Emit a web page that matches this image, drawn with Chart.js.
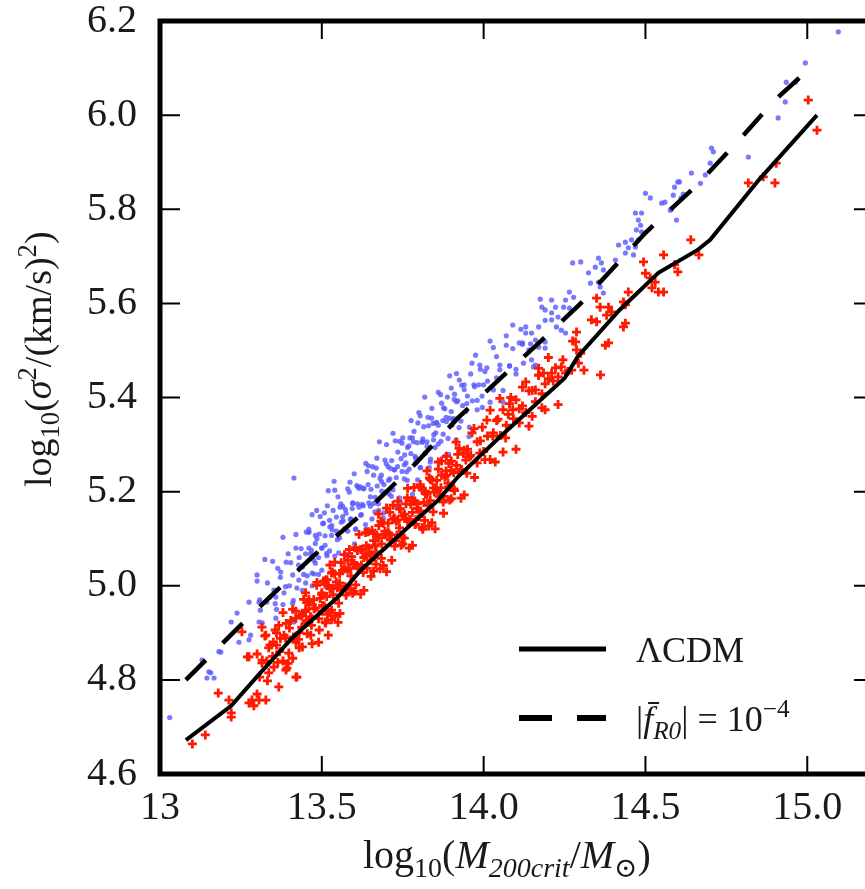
<!DOCTYPE html>
<html>
<head>
<meta charset="utf-8">
<script src="https://cdn.jsdelivr.net/npm/chart.js@4.4.1/dist/chart.umd.min.js"></script>
<style>
  html, body { margin: 0; padding: 0; background: #fff; overflow: hidden; }
  #wrap { width: 900px; height: 889px; }
</style>
</head>
<body>
<div id="wrap"><canvas id="chart" width="900" height="889"></canvas></div>
<script>
// --- DATA ---
const xTicks = [13, 13.5, 14, 14.5, 15];
const xTickLabels = ['13', '13.5', '14.0', '14.5', '15.0'];
const yTicks = [4.6, 4.8, 5.0, 5.2, 5.4, 5.6, 5.8, 6.0, 6.2];
const yTickLabels = ['4.6', '4.8', '5.0', '5.2', '5.4', '5.6', '5.8', '6.0', '6.2'];

const seriesNames = ['ΛCDM', '|f̄R0| = 10−4'];

// mean relations
const lcdmLineX = [13.08, 13.22, 13.31, 13.41, 13.47, 13.55, 13.62, 13.78, 13.86, 13.92, 14.05, 14.25, 14.29, 14.42, 14.54, 14.66, 14.70, 14.85, 15.03];
const lcdmLineY = [4.672, 4.745, 4.815, 4.89, 4.927, 4.976, 5.033, 5.133, 5.182, 5.231, 5.316, 5.441, 5.486, 5.586, 5.665, 5.713, 5.735, 5.862, 6.0];
const fr4LineX = [13.08, 13.265, 13.47, 13.667, 13.79, 13.92, 14.046, 14.18, 14.30, 14.5, 14.657, 14.78, 14.90, 15.012];
const fr4LineY = [4.80, 4.927, 5.061, 5.178, 5.26, 5.356, 5.437, 5.522, 5.60, 5.75, 5.85, 5.94, 6.032, 6.102];

// individual haloes, ΛCDM (red)
const lcdmHalos = [
  [13.10,4.664],[13.14,4.683],[13.18,4.772],[13.213,4.757],[13.22,4.73],[13.22,4.721],[13.275,4.751],[13.284,4.757],
  [13.29,4.745],[13.30,4.77],[13.306,4.757],[13.327,4.757],[13.42,4.806],[13.423,4.806],[13.253,4.902],[13.27,4.849],
  [13.275,4.849],[13.315,4.912],[13.327,4.895],[13.336,4.868],[13.36,4.874],[13.367,4.916],[13.383,4.895],[13.398,4.857],
  [13.43,4.868],[13.41,4.846],[13.352,4.827],[13.389,4.821],[13.438,4.912],[13.42,4.931],[13.45,4.948],[13.466,4.895],
  [13.49,4.88],[13.52,4.895],[13.512,4.921],[13.53,4.948],[13.552,4.963],[13.50,4.985],[13.512,5.012],[13.53,5.027],
  [13.45,4.985],[13.315,4.836],[13.336,4.815],[13.367,4.785],[13.392,4.825],
  [13.36,4.90],[13.40,4.91],[13.44,4.94],[13.37,4.86],[13.42,4.88],[13.45,4.92],[13.38,4.84],[13.41,4.95],
  [13.43,4.90],[13.46,4.96],[13.39,4.92],[13.44,4.87],[13.33,4.84],[13.35,4.88],[13.47,4.93],
  [13.45,4.945],[13.455,4.898],[13.46,4.971],[13.465,4.934],[13.47,4.877],[13.475,4.97],[13.48,4.953],[13.485,5.007],
  [13.49,4.93],[13.495,4.973],[13.50,4.946],[13.505,5.01],[13.51,4.923],[13.515,4.977],[13.52,5.00],[13.525,5.044],
  [13.53,4.928],[13.535,4.981],[13.54,5.025],[13.545,5.008],[13.55,4.922],[13.555,5.006],[13.56,5.049],[13.565,4.993],
  [13.57,5.036],[13.575,4.98],[13.58,5.034],[13.585,5.077],[13.59,5.021],[13.595,4.984],[13.60,5.048],[13.605,5.002],
  [13.61,5.075],[13.615,5.039],[13.62,4.982],[13.625,5.076],[13.63,5.06],[13.635,5.113],[13.64,5.037],[13.645,5.08],
  [13.65,5.054],[13.655,5.118],[13.66,5.031],[13.665,5.085],[13.67,5.108],[13.675,5.152],[13.68,5.036],[13.685,5.089],
  [13.69,5.133],[13.695,5.116],[13.70,5.03],[13.705,5.113],[13.71,5.156],[13.715,5.099],[13.72,5.141],[13.725,5.084],
  [13.73,5.137],[13.735,5.18],[13.74,5.123],[13.745,5.086],[13.75,5.149],[13.755,5.101],[13.76,5.174],[13.765,5.137],
  [13.77,5.08],[13.775,5.173],[13.78,5.156],[13.785,5.209],[13.79,5.131],[13.795,5.174],[13.80,5.147],[13.805,5.21],
  [13.81,5.124],[13.815,5.177],[13.82,5.201],[13.825,5.244],[13.83,5.127],[13.835,5.181],[13.84,5.224],[13.845,5.208],
  [13.85,5.121],[13.855,5.204],[13.86,5.248],[13.865,5.191],[13.87,5.235],[13.875,5.178],[13.88,5.231],[13.885,5.275],
  [13.89,5.218],[13.895,5.182],[13.90,5.245],[13.91,5.202],[13.92,5.279],[13.93,5.246],[13.94,5.193],[13.95,5.29],
  [13.96,5.277],[13.97,5.334],[13.98,5.261],[13.99,5.308],[14.00,5.285],[14.01,5.352],[14.02,5.268],[14.03,5.325],
  [14.04,5.351],[14.05,5.398],[14.06,5.284],[14.07,5.341],[14.08,5.387],[14.09,5.374],[14.10,5.29],[14.11,5.376],
  [14.12,5.422],[14.13,5.368],[14.14,5.414],[14.15,5.36],[14.16,5.416],[14.17,5.462],[14.18,5.408],[14.19,5.374],[14.20,5.44],
  [13.5025,4.958],[13.51,5.003],[13.5175,4.939],[13.525,4.994],[13.5325,5.029],[13.54,4.935],[13.5475,5.00],[13.555,5.026],
  [13.5625,4.991],[13.57,5.066],[13.5775,4.992],[13.585,5.037],[13.5925,5.062],[13.60,4.988],[13.6075,5.043],[13.615,5.109],
  [13.6225,5.044],[13.63,4.99],[13.6375,5.085],[13.645,5.07],[13.6525,5.066],[13.66,5.111],[13.6675,5.046],[13.675,5.102],
  [13.6825,5.137],[13.69,5.043],[13.6975,5.108],[13.705,5.133],[13.7125,5.097],[13.72,5.171],[13.7275,5.096],[13.735,5.14],
  [13.7425,5.164],[13.75,5.089],[13.7575,5.143],[13.765,5.207],[13.7725,5.141],[13.78,5.086],[13.7875,5.18],[13.795,5.164],
  [13.8025,5.159],[13.81,5.204],[13.8175,5.139],[13.825,5.194],[13.8325,5.229],[13.84,5.134],[13.8475,5.199],[13.855,5.224],
  [13.8625,5.19],[13.87,5.265],[13.8775,5.19],[13.885,5.235],[13.8925,5.26],[13.90,5.185],[13.9075,5.24],[13.915,5.305],
  [13.9225,5.241],[13.93,5.186],[13.9375,5.281],[13.945,5.267],
  [13.300,4.855],[13.308,4.806],[13.316,4.842],[13.324,4.893],[13.332,4.798],[13.340,4.874],[13.348,4.85],[13.356,4.906],
  [13.364,4.837],[13.372,4.888],[13.380,4.943],[13.388,4.889],[13.396,4.835],[13.404,4.926],[13.412,4.891],[13.420,4.946],
  [13.428,4.886],[13.436,4.936],[13.444,4.971],[13.452,4.926],[13.460,4.966],[13.468,4.916],[13.476,4.951],[13.484,5.001],
  [13.492,4.906],[13.500,4.981],[13.508,4.957],[13.516,5.013],[13.524,4.943],[13.532,4.994],[13.540,5.05],[13.548,4.996],
  [13.556,4.941],[13.564,5.032],[13.572,4.998],[13.580,5.054],[13.588,4.994],[13.596,5.045],[13.604,5.081],[13.612,5.037],
  [13.620,5.077],[13.628,5.028],[13.636,5.064],[13.644,5.115],[13.652,5.02],[13.660,5.096],[13.668,5.072],[13.676,5.128],
  [13.684,5.058],[13.692,5.109],[13.700,5.165],[13.708,5.11],[13.716,5.054],[13.724,5.144],[13.732,5.108],[13.740,5.163],
  [13.748,5.103],[13.756,5.152],[13.764,5.187],[13.772,5.141],[13.780,5.181],[13.788,5.13],[13.796,5.165],[13.804,5.215],
  [13.812,5.12],[13.820,5.196],[13.828,5.171],[13.836,5.226],[13.844,5.157],[13.852,5.207],[13.860,5.263],[13.868,5.208],
  [13.876,5.154],[13.884,5.244],[13.892,5.21],[13.900,5.265],[13.908,5.206],[13.916,5.256],[13.924,5.292],[13.932,5.247],
  [13.940,5.288],[13.948,5.239],[13.956,5.274],[13.964,5.325],[13.972,5.23],[13.980,5.306],[13.988,5.282],[13.996,5.337],
  [14.004,5.268],[14.012,5.318],[14.020,5.373],[14.028,5.318],[14.036,5.263],[14.044,5.354],[14.052,5.319],[14.060,5.374],
  [14.068,5.314],[14.076,5.364],[14.084,5.40],[14.092,5.355],[14.100,5.395],[14.110,5.346],[14.120,5.382],[14.130,5.433],
  [14.140,5.339],[14.150,5.415],[14.160,5.391],[14.170,5.447],[14.180,5.378],[14.190,5.429],[14.200,5.485],[14.215,5.435],
  [14.230,5.385],[14.245,5.48],[14.260,5.455],[14.275,5.52],
  [14.64,5.735],[14.556,5.703],[14.60,5.667],[14.59,5.682],[14.494,5.688],[14.50,5.664],[14.515,5.654],[14.53,5.645],
  [14.52,5.633],[14.54,5.624],[14.556,5.624],[14.447,5.624],[14.432,5.603],[14.438,5.597],[14.349,5.611],[14.36,5.592],
  [14.386,5.592],[14.395,5.582],[14.333,5.565],[14.349,5.561],[14.38,5.575],[14.438,5.558],[14.432,5.55],[14.386,5.516],
  [14.376,5.511],[14.287,5.539],[14.284,5.518],[14.287,5.501],[14.30,5.494],[14.293,5.473],[14.31,5.458],[14.361,5.448],
  [14.24,5.465],[14.222,5.463],[14.21,5.452],[14.185,5.452],[14.17,5.448],[14.23,5.444],[14.253,5.452],[14.272,5.458],
  [15.003,6.032],[15.03,5.968],[14.904,5.898],[14.864,5.869],[14.818,5.856],[14.90,5.856],[14.665,5.703]
];

// individual haloes, f(R) 1e-4 (blue)
const fr4Halos = [
  [13.03,4.72],[13.145,4.804],[13.167,4.804],[13.157,4.815],[13.13,4.842],[13.151,4.817],[13.182,4.86],[13.188,4.859],
  [13.244,4.88],[13.275,4.885],[13.28,4.895],[13.22,4.923],[13.238,4.942],[13.275,4.965],[13.306,4.965],[13.33,4.965],
  [13.31,4.948],[13.306,4.923],[13.358,4.931],[13.30,5.023],[13.414,4.923],[13.358,4.976],[13.383,4.985],[13.41,4.963],
  [13.373,5.029],[13.41,5.023],[13.429,5.012],[13.45,5.006],[13.423,4.995],[13.47,5.027],[13.48,5.048],[13.50,5.033],
  [13.39,5.05],[13.352,4.991],[13.414,5.229],
  [13.44,5.04],[13.46,5.08],[13.43,5.06],[13.47,5.00],[13.49,5.06],[13.44,4.99],[13.40,5.00],[13.38,4.96],
  [13.36,4.95],[13.46,5.12],[13.42,5.08],[13.48,5.09],
  [13.45,5.068],[13.455,5.021],[13.46,5.114],[13.465,5.068],[13.47,5.151],[13.475,5.054],[13.48,5.107],[13.485,5.10],
  [13.49,5.024],[13.495,5.147],[13.50,5.08],[13.505,5.133],[13.51,5.106],[13.515,5.069],[13.52,5.202],[13.525,5.125],
  [13.53,5.107],[13.535,5.16],[13.54,5.063],[13.545,5.146],[13.55,5.189],[13.555,5.102],[13.56,5.135],[13.565,5.168],
  [13.57,5.121],[13.575,5.154],[13.58,5.066],[13.585,5.199],[13.59,5.142],[13.595,5.175],[13.60,5.238],[13.605,5.121],
  [13.61,5.174],[13.615,5.207],[13.62,5.15],[13.625,5.173],[13.63,5.207],[13.635,5.13],[13.64,5.243],[13.645,5.176],
  [13.65,5.189],[13.655,5.142],[13.66,5.235],[13.665,5.188],[13.67,5.271],[13.675,5.174],[13.68,5.228],[13.685,5.221],
  [13.69,5.144],[13.695,5.267],[13.70,5.20],[13.705,5.253],[13.71,5.227],[13.715,5.19],[13.72,5.324],[13.725,5.247],
  [13.73,5.23],[13.735,5.284],[13.74,5.187],[13.745,5.27],[13.75,5.314],[13.755,5.227],[13.76,5.261],[13.765,5.294],
  [13.77,5.248],[13.775,5.281],[13.78,5.194],[13.785,5.328],[13.79,5.271],[13.795,5.304],[13.80,5.368],[13.805,5.251],
  [13.81,5.305],[13.815,5.338],[13.82,5.282],[13.825,5.306],[13.83,5.34],[13.835,5.263],[13.84,5.377],[13.845,5.31],
  [13.85,5.294],[13.855,5.347],[13.86,5.341],[13.865,5.264],[13.87,5.388],[13.875,5.322],[13.88,5.376],[13.885,5.349],
  [13.89,5.313],[13.895,5.446],[13.90,5.37],[13.905,5.353],[13.91,5.407],[13.915,5.31],[13.92,5.393],[13.925,5.437],
  [13.93,5.35],[13.935,5.383],[13.94,5.417],[13.945,5.37],[13.95,5.403],[13.955,5.317],[13.96,5.45],[13.965,5.393],
  [13.97,5.427],[13.975,5.49],[13.98,5.374],[13.985,5.427],[13.99,5.46],[13.995,5.403],[14.00,5.427],[14.01,5.463],
  [14.02,5.39],[14.03,5.506],[14.04,5.442],[14.05,5.459],[14.06,5.415],[14.07,5.511],[14.08,5.467],[14.09,5.554],
  [14.10,5.46],[14.11,5.516],[14.12,5.513],
  [13.503,5.132],[13.51,5.086],[13.517,5.17],[13.524,5.074],[13.531,5.128],[13.538,5.222],[13.545,5.116],[13.552,5.07],
  [13.559,5.174],[13.566,5.138],[13.573,5.162],[13.58,5.116],[13.587,5.22],[13.594,5.164],[13.601,5.089],[13.608,5.213],
  [13.615,5.167],[13.622,5.151],[13.629,5.206],[13.636,5.26],[13.643,5.215],[13.65,5.169],[13.657,5.253],[13.664,5.157],
  [13.671,5.212],[13.678,5.306],[13.685,5.201],[13.692,5.155],[13.699,5.259],[13.706,5.224],[13.713,5.249],[13.72,5.204],
  [13.727,5.308],[13.734,5.253],[13.741,5.178],[13.748,5.303],[13.755,5.257],[13.762,5.242],[13.769,5.297],[13.776,5.351],
  [13.783,5.306],[13.79,5.261],[13.797,5.346],[13.804,5.251],[13.811,5.306],[13.818,5.401],[13.825,5.296],[13.832,5.251],
  [13.839,5.356],[13.846,5.321],[13.853,5.346],[13.86,5.301],[13.867,5.406],[13.874,5.351],[13.881,5.276],[13.888,5.401],
  [13.895,5.356],[13.902,5.341],[13.909,5.396],[13.916,5.451],
  [13.300,5.01],[13.308,4.97],[13.316,4.921],[13.324,5.056],[13.332,5.006],[13.340,4.976],[13.348,5.052],[13.356,4.962],
  [13.364,5.037],[13.372,5.018],[13.380,5.103],[13.388,4.998],[13.396,5.068],[13.404,5.049],[13.412,4.969],[13.420,5.109],
  [13.428,5.044],[13.436,5.079],[13.444,5.024],[13.452,5.114],[13.460,5.114],[13.468,5.075],[13.476,5.025],[13.484,5.16],
  [13.492,5.11],[13.500,5.08],[13.508,5.155],[13.516,5.064],[13.524,5.139],[13.532,5.119],[13.540,5.203],[13.548,5.098],
  [13.556,5.167],[13.564,5.147],[13.572,5.067],[13.580,5.206],[13.588,5.141],[13.596,5.176],[13.604,5.12],[13.612,5.21],
  [13.620,5.21],[13.628,5.17],[13.636,5.12],[13.644,5.255],[13.652,5.205],[13.660,5.175],[13.668,5.25],[13.676,5.16],
  [13.684,5.235],[13.692,5.215],[13.700,5.30],[13.708,5.195],[13.716,5.266],[13.724,5.246],[13.732,5.167],[13.740,5.307],
  [13.748,5.243],[13.756,5.278],[13.764,5.224],[13.772,5.314],[13.780,5.314],[13.788,5.275],[13.796,5.225],[13.804,5.361],
  [13.812,5.312],[13.820,5.282],[13.828,5.358],[13.836,5.269],[13.844,5.345],[13.852,5.325],[13.860,5.411],[13.868,5.307],
  [13.876,5.378],[13.884,5.358],[13.892,5.279],[13.900,5.42],[13.908,5.355],[13.916,5.391],[13.924,5.336],[13.932,5.426],
  [13.940,5.427],[13.948,5.387],[13.956,5.337],[13.964,5.473],[13.972,5.423],[13.980,5.394],[13.988,5.469],[13.996,5.379],
  [14.004,5.455],[14.012,5.435],[14.020,5.52],[14.030,5.416],[14.040,5.487],[14.050,5.469],[14.060,5.39],[14.070,5.531],
  [14.080,5.467],[14.090,5.504],[14.100,5.45],[14.115,5.545],[14.130,5.55],[14.145,5.514],[14.160,5.469],[14.175,5.609],[14.190,5.564],
  [14.642,5.877],[14.60,5.858],[14.59,5.847],[14.61,5.824],[14.586,5.83],[14.56,5.815],[14.55,5.813],[14.58,5.80],
  [14.577,5.798],[14.596,5.777],[14.50,5.834],[14.515,5.824],[14.469,5.792],[14.488,5.792],[14.478,5.777],[14.485,5.766],
  [14.472,5.756],[14.488,5.752],[14.478,5.735],[14.457,5.735],[14.438,5.73],[14.447,5.718],[14.469,5.72],[14.417,5.724],
  [14.438,5.707],[14.463,5.703],[14.407,5.692],[14.355,5.696],[14.364,5.686],[14.345,5.677],[14.37,5.671],[14.275,5.686],
  [14.30,5.688],[14.324,5.665],[14.33,5.643],[14.355,5.645],[14.36,5.635],[14.37,5.622],[14.265,5.624],[14.278,5.613],
  [14.253,5.607],[14.21,5.607],[14.222,5.592],[14.247,5.592],[14.265,5.59],[14.21,5.58],[14.19,5.586],[14.18,5.592],
  [14.23,5.571],[14.21,5.565],[14.225,5.55],[14.24,5.543],[14.253,5.537],[14.17,5.55],[14.148,5.537],[14.13,5.537],
  [14.16,5.522],[14.19,5.518],[14.12,5.516],[14.17,5.507],[14.14,5.501],[14.19,5.505],[14.148,5.48],[14.123,5.473],[14.154,5.465],
  [15.096,6.177],[14.994,6.111],[14.935,6.07],[14.963,6.07],[14.932,6.028],[14.91,5.994],[14.818,5.911],[14.704,5.93],
  [14.71,5.922],[14.70,5.898],[14.685,5.873],[14.605,5.858],[14.67,5.855],[14.617,5.832]
];

// --- CHART ---
const SERIF = '"Liberation Serif", "DejaVu Serif", serif';
const TXT = '#1a1a1a';

function toXY(pairs) { return pairs.map(p => ({ x: p[0], y: p[1] })); }
function zipXY(xs, ys) { return xs.map((x, i) => ({ x: x, y: ys[i] })); }

// draws a list of text pieces (normal / italic / sub / sup) along the baseline
function drawRich(ctx, parts, x, y, size) {
    let cx = x;
    parts.forEach(p => {
        const s = (p.sub || p.sup) ? size * 0.7 : size;
        const dy = p.sub ? size * 0.22 : (p.sup ? -size * 0.4 : 0);
        ctx.font = (p.it ? 'italic ' : '') + s + 'px ' + SERIF;
        ctx.fillText(p.t, cx, y + dy);
        cx += ctx.measureText(p.t).width;
    });
    return cx - x;
}

const xTitle = [
    { t: 'log' }, { t: '10', sub: true }, { t: '(' }, { t: 'M', it: true }, { t: '200crit', it: true, sub: true },
    { t: '/' }, { t: 'M', it: true }, { t: '⊙', sub: true }, { t: ')' }
];
const yTitle = [
    { t: 'log' }, { t: '10', sub: true }, { t: '(' }, { t: 'σ', it: true }, { t: '2', sup: true },
    { t: '/(km/s)' }, { t: '2', sup: true }, { t: ')' }
];
const legendText = [
    [{ t: 'ΛCDM' }],
    [{ t: '|' }, { t: 'f̄', it: true }, { t: 'R0', it: true, sub: true }, { t: '| = 10' }, { t: '−4', sup: true }]
];

const framePlugin = {
    id: 'frame',
    afterDatasetsDraw(chart) {
        const { ctx, chartArea: a, scales } = chart;
        ctx.save();
        ctx.strokeStyle = '#000';
        ctx.lineWidth = 2;
        // inward ticks on all four sides
        xTicks.forEach(v => {
            const px = scales.x.getPixelForValue(v);
            if (px <= a.left + 3 || px >= a.right - 3) return;
            ctx.beginPath();
            ctx.moveTo(px, a.bottom); ctx.lineTo(px, a.bottom - 18);
            ctx.moveTo(px, a.top); ctx.lineTo(px, a.top + 18);
            ctx.stroke();
        });
        yTicks.forEach(v => {
            const py = scales.y.getPixelForValue(v);
            if (py <= a.top + 3 || py >= a.bottom - 3) return;
            ctx.beginPath();
            ctx.moveTo(a.left, py); ctx.lineTo(a.left + 20, py);
            ctx.moveTo(a.right, py); ctx.lineTo(a.right - 18, py);
            ctx.stroke();
        });
        ctx.lineWidth = 5;
        ctx.strokeRect(a.left, a.top, a.right - a.left, a.bottom - a.top);
        ctx.restore();
    },
    afterDraw(chart) {
        const ctx = chart.ctx;
        const ds = chart.data.datasets;
        ctx.save();
        ctx.fillStyle = TXT;
        ctx.textBaseline = 'alphabetic';
        ctx.textAlign = 'left';

        // x title
        drawRich(ctx, xTitle, 363, 868, 40);

        // y title, rotated
        ctx.save();
        ctx.translate(51, 487);
        ctx.rotate(-Math.PI / 2);
        drawRich(ctx, yTitle, 0, 0, 38);
        ctx.restore();

        // legend
        const rows = [649, 718];
        [0, 1].forEach(i => {
            const d = ds[i];
            ctx.save();
            ctx.strokeStyle = d.borderColor;
            ctx.lineWidth = i === 0 ? 5 : 6;
            ctx.setLineDash(i === 0 ? [] : [33, 25]);
            ctx.beginPath();
            ctx.moveTo(519, rows[i]);
            ctx.lineTo(606, rows[i]);
            ctx.stroke();
            ctx.restore();
            ctx.fillStyle = TXT;
            drawRich(ctx, legendText[i], 636, rows[i] + 13, 36);
        });
        ctx.restore();
    }
};

const chart = new Chart(document.getElementById('chart'), {
    type: 'scatter',
    data: {
        datasets: [
            {
                label: seriesNames[0],
                type: 'line',
                data: zipXY(lcdmLineX, lcdmLineY),
                borderColor: '#000',
                borderWidth: 4,
                pointRadius: 0,
                tension: 0,
                fill: false,
                order: 0
            },
            {
                label: seriesNames[1],
                type: 'line',
                data: zipXY(fr4LineX, fr4LineY),
                borderColor: '#000',
                borderWidth: 4.5,
                borderDash: [28, 24],
                pointRadius: 0,
                tension: 0,
                fill: false,
                order: 0
            },
            {
                label: 'ΛCDM haloes',
                data: toXY(lcdmHalos),
                pointStyle: 'cross',
                pointRadius: 4.5,
                borderWidth: 2.8,
                borderColor: '#ff1a00',
                backgroundColor: '#ff1a00',
                order: 1
            },
            {
                label: 'f(R) haloes',
                data: toXY(fr4Halos),
                pointStyle: 'circle',
                pointRadius: 2.6,
                borderWidth: 0,
                backgroundColor: 'rgba(88, 88, 255, 0.8)',
                order: 2
            }
        ]
    },
    options: {
        responsive: false,
        animation: false,
        layout: { padding: { top: 21, right: 28, left: 0, bottom: 0 } },
        plugins: { legend: { display: false }, tooltip: { enabled: false } },
        scales: {
            x: {
                type: 'linear',
                min: 13, max: 15.2,
                afterBuildTicks: s => { s.ticks = xTicks.map(v => ({ value: v })); },
                afterFit: s => { s.height = 115; s.paddingLeft = 0; s.paddingRight = 0; },
                grid: { display: false, drawTicks: false },
                border: { display: false },
                ticks: {
                    callback: (v, i) => xTickLabels[i],
                    font: { family: SERIF, size: 40, lineHeight: 1 },
                    color: TXT, padding: 14, maxRotation: 0, autoSkip: false
                }
            },
            y: {
                type: 'linear',
                min: 4.6, max: 6.2,
                afterBuildTicks: s => { s.ticks = yTicks.map(v => ({ value: v })); },
                afterFit: s => { s.width = 160; s.paddingTop = 0; s.paddingBottom = 0; },
                grid: { display: false, drawTicks: false },
                border: { display: false },
                ticks: {
                    callback: (v, i) => yTickLabels[i],
                    font: { family: SERIF, size: 40, lineHeight: 1 },
                    color: TXT, padding: 23, autoSkip: false
                }
            }
        }
    },
    plugins: [framePlugin]
});
</script>
</body>
</html>
